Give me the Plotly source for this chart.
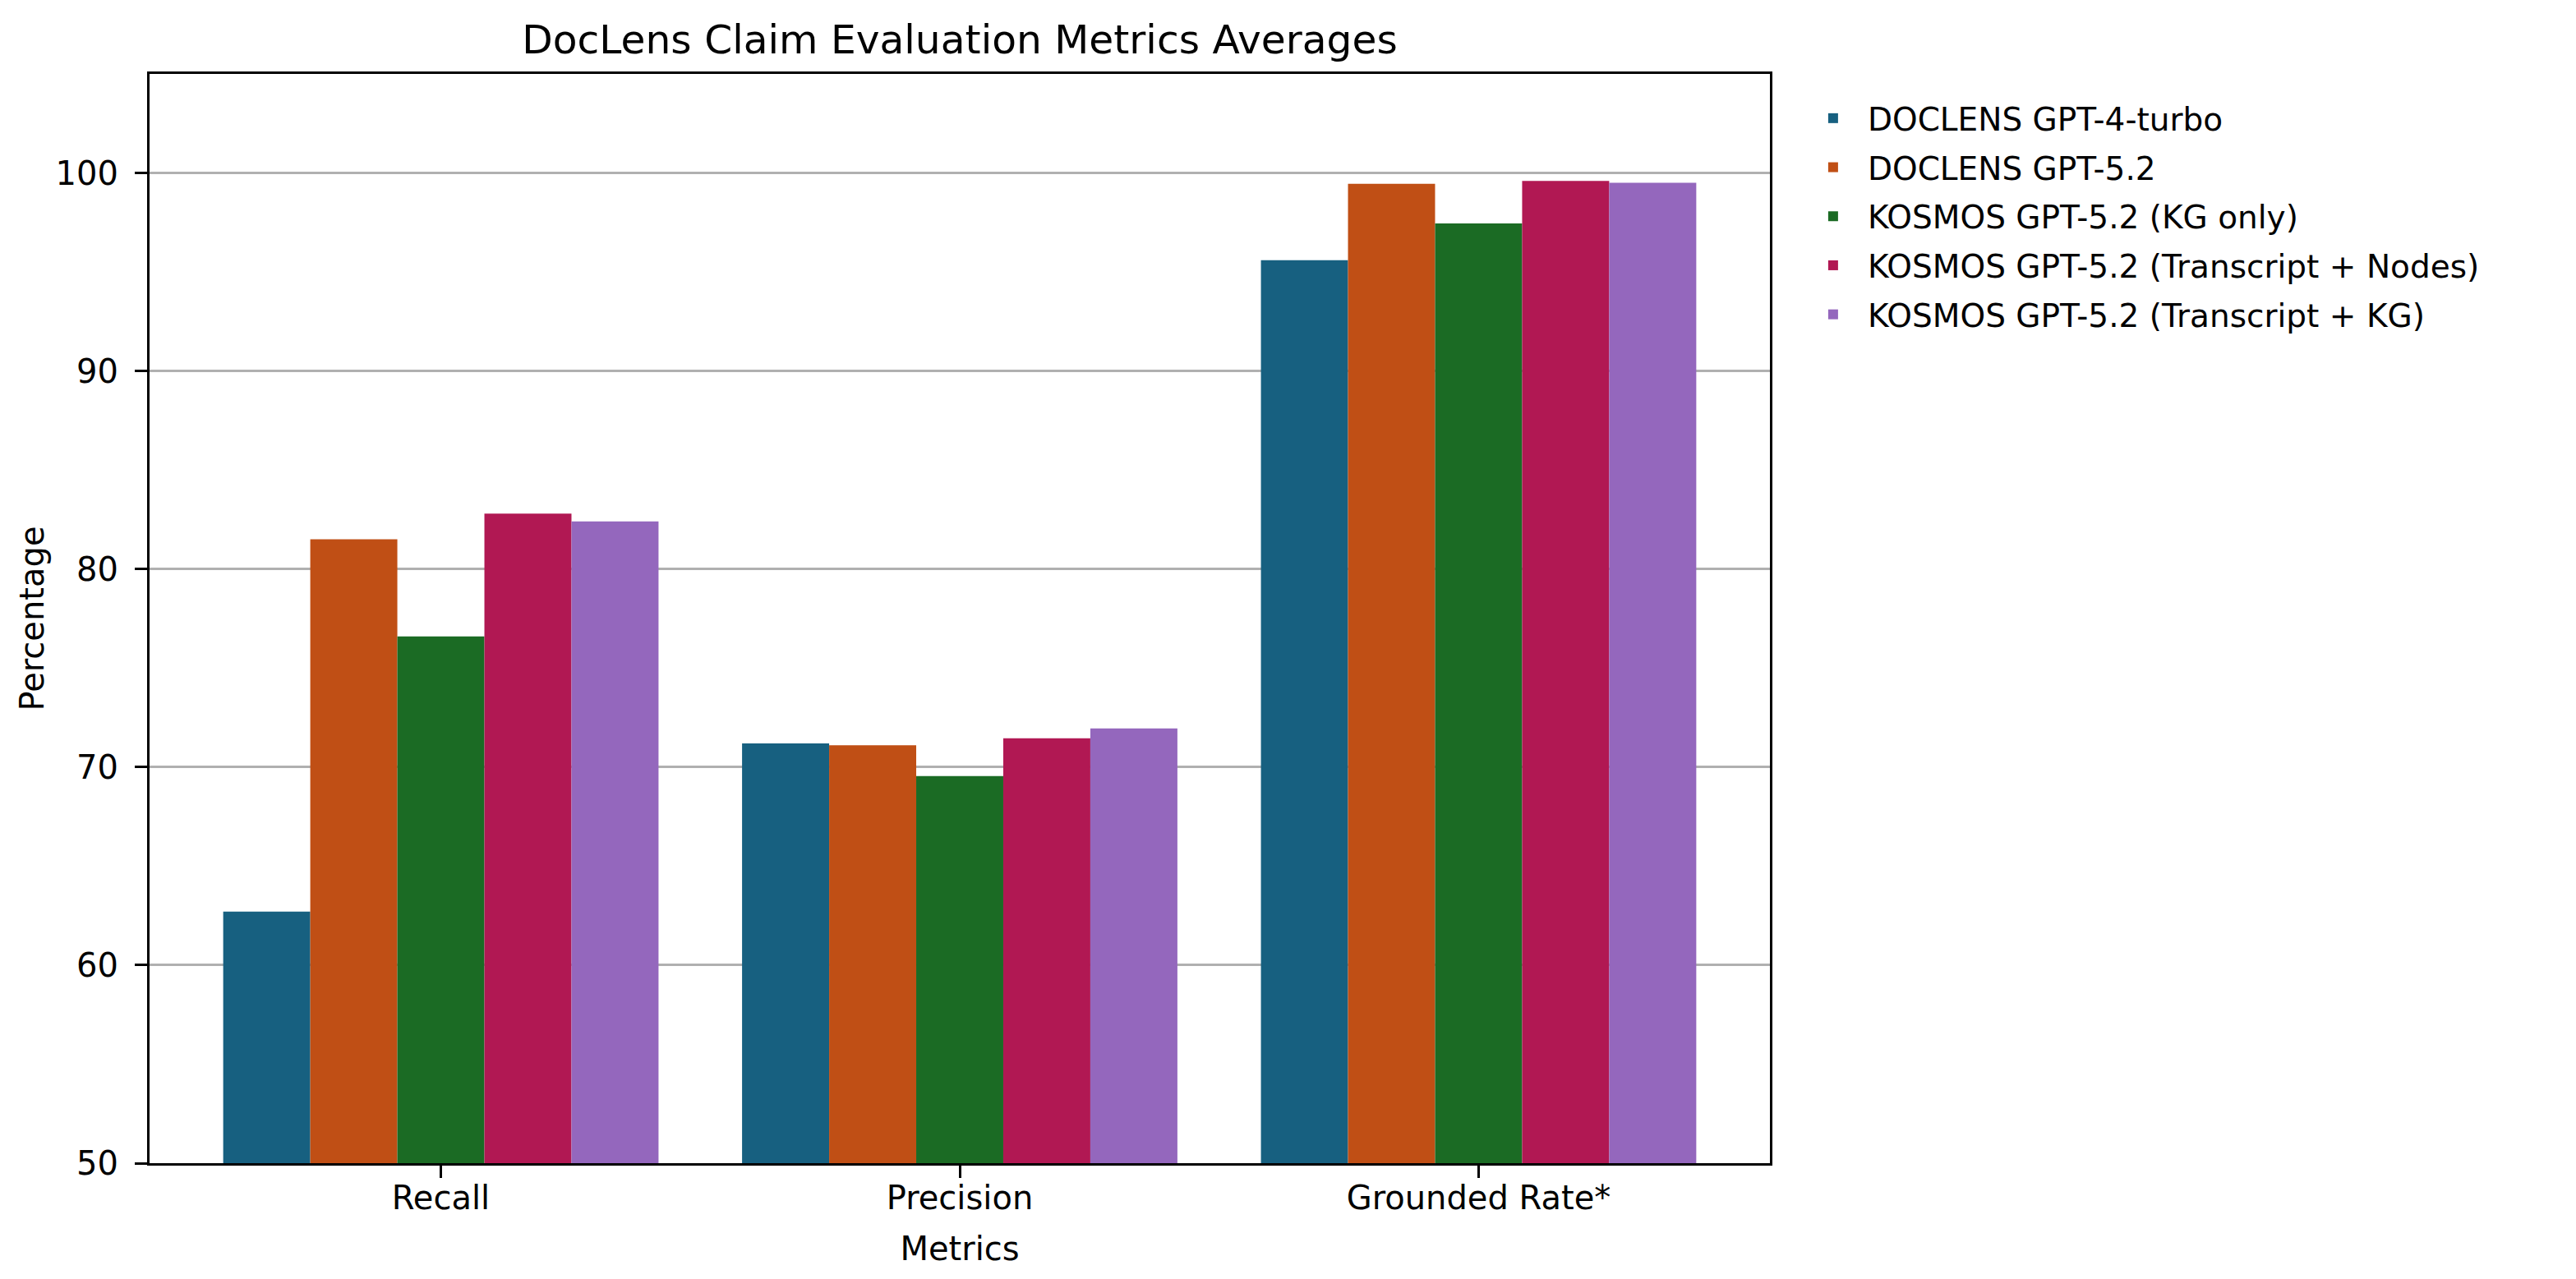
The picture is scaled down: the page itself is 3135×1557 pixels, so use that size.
import plotly.graph_objects as go

categories = ["Recall", "Precision", "Grounded Rate*"]
series_names = [
    "DOCLENS GPT-4-turbo",
    "DOCLENS GPT-5.2",
    "KOSMOS GPT-5.2 (KG only)",
    "KOSMOS GPT-5.2 (Transcript + Nodes)",
    "KOSMOS GPT-5.2 (Transcript + KG)",
]
doclens_gpt4_turbo = [62.7, 71.2, 95.6]
doclens_gpt52 = [81.5, 71.1, 99.45]
kosmos_kg_only = [76.6, 69.55, 97.45]
kosmos_transcript_nodes = [82.8, 71.45, 99.6]
kosmos_transcript_kg = [82.4, 71.95, 99.5]
series_values = [
    doclens_gpt4_turbo,
    doclens_gpt52,
    kosmos_kg_only,
    kosmos_transcript_nodes,
    kosmos_transcript_kg,
]
colors = ["#176080", "#c04f15", "#1b6b24", "#b11853", "#9467bd"]
y_ticks = [50, 60, 70, 80, 90, 100]

W, H = 3135, 1557
OFF = 8  # browser body margin
L, R, T, B = 182 - OFF, 2154 - OFF, 90 - OFF, 1416 - OFF
FONT = "DejaVu Sans"
FS = 40
LEG_FS = 39
GROUP_W = 0.839
PAD = 0.05 * (len(categories) - 1 + GROUP_W)

fig = go.Figure()
for i, (name, vals) in enumerate(zip(series_names, series_values)):
    fig.add_trace(go.Bar(
        x=categories, y=vals, name=name,
        marker=dict(color=colors[i], line=dict(width=0)),
        legendgroup=f"g{i}",
    ))

fig.update_layout(
    width=W, height=H,
    margin=dict(l=L, r=W - R, t=T, b=H - B, pad=0),
    paper_bgcolor="white", plot_bgcolor="white",
    font=dict(family=FONT, size=FS, color="black"),
    barmode="group", bargap=1 - GROUP_W, bargroupgap=0,
    title=dict(text="DocLens Claim Evaluation Metrics Averages",
               font=dict(size=48.7, family=FONT, color="black"),
               x=(L + R) / 2 / W, xanchor="center", xref="container",
               y=1 - (48 - OFF) / H, yanchor="middle", yref="container"),
    legend=dict(x=1.0177, xanchor="left", y=1 - 22 / (B - T), yanchor="top",
                font=dict(size=LEG_FS, family=FONT, color="black"),
                bgcolor="rgba(0,0,0,0)", borderwidth=0,
                itemwidth=74,
                tracegroupgap=6, traceorder="grouped"),
    showlegend=True,
)
fig.update_xaxes(
    type="category",
    range=[-GROUP_W / 2 - PAD, len(categories) - 1 + GROUP_W / 2 + PAD],
    showline=True, linecolor="black", linewidth=3.3, mirror=True,
    ticks="outside", ticklen=15, tickwidth=3.3, tickcolor="black",
    ticklabelstandoff=-10,
    showgrid=False, zeroline=False,
    tickfont=dict(size=FS, family=FONT, color="black"),
    title=dict(text="Metrics", font=dict(size=FS, family=FONT, color="black"), standoff=26),
)
fig.update_yaxes(
    range=[50, 105], tickvals=y_ticks,
    showline=True, linecolor="black", linewidth=3.3, mirror=True,
    ticks="outside", ticklen=15, tickwidth=3.3, tickcolor="black",
    ticklabelstandoff=12,
    showgrid=True, gridcolor="#b0b0b0", gridwidth=2.5, zeroline=False,
    tickfont=dict(size=FS, family=FONT, color="black"),
    title=dict(text="Percentage", font=dict(size=FS, family=FONT, color="black"), standoff=2),
)

fig.write_html("out.html")
